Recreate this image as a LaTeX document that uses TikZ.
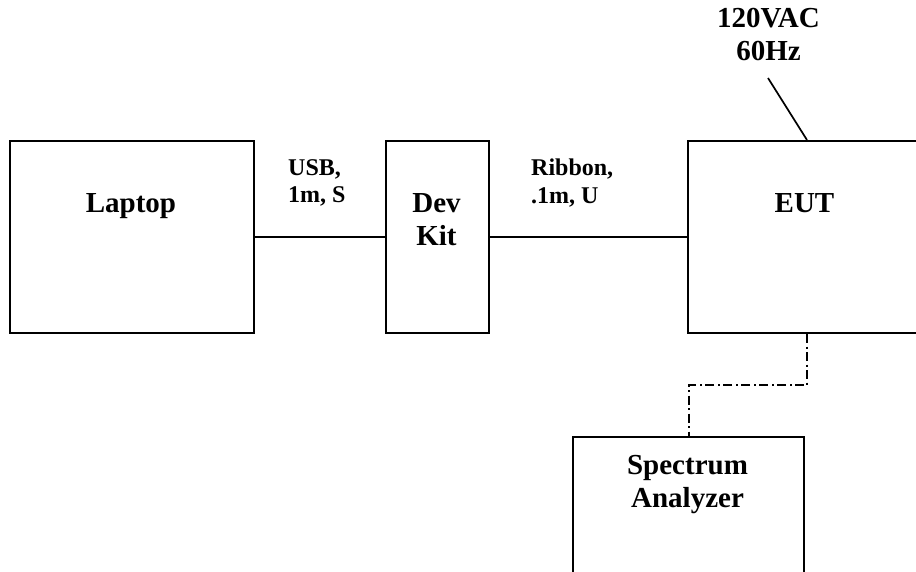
\documentclass[tikz,border=0pt]{standalone}
\usepackage{fontspec}
\setmainfont{Liberation Serif}
\begin{document}
\begin{tikzpicture}[x=1pt,y=-1pt,
  box/.style={draw,line width=2pt,rectangle,inner sep=0pt,anchor=north west},
  wire/.style={line width=1.7pt},
  dashdotwire/.style={line width=2pt,dash pattern=on 9pt off 3.5pt on 2pt off 3.5pt},
  bigtxt/.style={font=\fontsize{29}{33}\selectfont\bfseries,inner sep=0pt,align=center,anchor=base},
  smalltxt/.style={font=\fontsize{24}{27.5}\selectfont\bfseries,inner sep=0pt,align=left,anchor=base west}]
\clip (0,0) rectangle (916,571);
\useasboundingbox (0,0) rectangle (916,571);
\fill[white] (0,0) rectangle (916,571);
% boxes
\node[box,minimum width=244pt,minimum height=192pt] (laptop) at (9,140) {};
\node[box,minimum width=103pt,minimum height=192pt] (devkit) at (385,140) {};
\node[box,minimum width=260pt,minimum height=192pt] (eut) at (687,140) {};
\node[box,minimum width=231pt,minimum height=160pt] (spec) at (572,436) {};
% box labels (base = baseline of last line)
\node[bigtxt] (laptoptxt) at (131,212) {Laptop};
\node[bigtxt] (devkittxt) at (436.5,245) {Dev\\Kit};
\node[bigtxt] (euttxt) at (804.5,212) {EUT};
\node[bigtxt] (spectxt) at (687.5,507) {Spectrum\\Analyzer};
\node[bigtxt] (powertxt) at (768.5,60) {120VAC\\60Hz};
% cable labels
\node[smalltxt] (usbtxt) at (288,202.5) {USB,\\1m, S};
\node[smalltxt] (ribbontxt) at (531,203) {Ribbon,\\.1m, U};
% connectors
\draw[wire] (laptop.east) -- (devkit.west);
\draw[wire] (devkit.east) -- (eut.west);
\coordinate (pw) at (768,78);
\draw[wire] (pw) -- ([xshift=120pt]eut.north west);
\draw[dashdotwire] ([xshift=120pt]eut.south west) -- ++(0,51) -| (spec.north);
\end{tikzpicture}
\end{document}
